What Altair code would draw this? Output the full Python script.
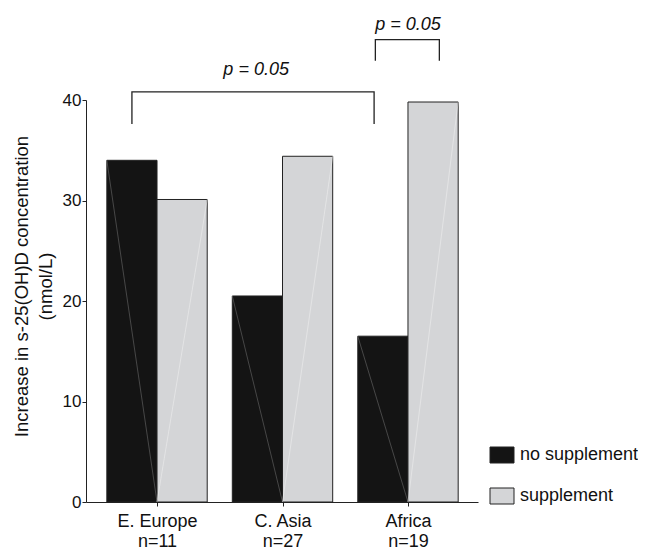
import altair as alt
import pandas as pd

# ---- data ----
regions = ["E. Europe", "C. Asia", "Africa"]
n_labels = ["n=11", "n=27", "n=19"]
groups = ["no supplement", "supplement"]
no_supp = [34.0, 20.5, 16.5]
supp = [30.1, 34.4, 39.8]
y_ticks = [0, 10, 20, 30, 40]

# significance brackets (data units)
bracket_x0 = [0.80, 2.74]
bracket_x1 = [2.73, 3.25]
bracket_top = [40.8, 46.0]
bracket_bottom = [37.6, 43.9]
p_labels = ["p = 0.05", "p = 0.05"]
p_x = [1.79, 3.0]
p_y = [43.0, 47.5]

FONT = "Liberation Sans"
BAR_W = 0.4

# ---- tables built from the lists ----
bar_rows = []
diag_rows = []
for i, reg in enumerate(regions):
    pos = i + 1
    bar_rows.append(dict(region=reg, group=groups[0], x=pos - BAR_W, x2=pos, y=no_supp[i]))
    bar_rows.append(dict(region=reg, group=groups[1], x=pos, x2=pos + BAR_W, y=supp[i]))
    diag_rows.append(dict(group=groups[0], xa=pos - BAR_W, ya=no_supp[i], xb=pos, yb=0))
    diag_rows.append(dict(group=groups[1], xa=pos, ya=0, xb=pos + BAR_W, yb=supp[i]))
bars_df = pd.DataFrame(bar_rows)
diag_df = pd.DataFrame(diag_rows)

br_rows = []
for b in range(len(bracket_x0)):
    pts = [(bracket_x0[b], bracket_bottom[b]), (bracket_x0[b], bracket_top[b]),
           (bracket_x1[b], bracket_top[b]), (bracket_x1[b], bracket_bottom[b])]
    for k, (px, py) in enumerate(pts):
        br_rows.append(dict(b=b, k=k, x=px, y=py))
br_df = pd.DataFrame(br_rows)
p_df = pd.DataFrame(dict(label=p_labels, x=p_x, y=p_y))

label_arr = "[" + ",".join(f"['{r}','{n}']" for r, n in zip(regions, n_labels)) + "]"

xscale = alt.Scale(domain=[0.434, 3.558], nice=False, zero=False)
yscale = alt.Scale(domain=[0, 40], nice=False)

x_axis = alt.Axis(values=[1, 2, 3], labelExpr=f"{label_arr}[datum.value - 1]",
                  title=None, grid=False, tickSize=4, labelFontSize=18,
                  labelLineHeight=20, labelPadding=6, labelFlush=False)
y_axis = alt.Axis(values=y_ticks, grid=False, tickSize=4, labelPadding=1,
                  labelFontSize=17, title=["Increase in  s-25(OH)D concentration", "(nmol/L)"],
                  titleFontSize=18.5, titleFontWeight="normal", titleLineHeight=24,
                  titleX=-74, titleY=186, titleBaseline="top", titleAlign="center", titleAngle=270)

bars = alt.Chart(bars_df).mark_rect(stroke="#222", strokeWidth=1).encode(
    x=alt.X("x:Q", scale=xscale, axis=x_axis),
    x2="x2:Q",
    y=alt.Y("y:Q", scale=yscale, axis=y_axis),
    y2=alt.datum(0),
    color=alt.Color("group:N",
                    scale=alt.Scale(domain=groups, range=["#141414", "#d4d5d7"]),
                    legend=alt.Legend(title=None, orient="none", legendX=407, legendY=346,
                                      symbolType="M-1.5,-1H1.5V1H-1.5Z", symbolSize=256,
                                      symbolStrokeColor="#222", symbolStrokeWidth=1,
                                      symbolOpacity=1, labelFontSize=18, labelOffset=9,
                                      rowPadding=21, padding=0, labelColor="#111")),
)

diag = alt.Chart(diag_df).mark_rule(strokeWidth=0.5).encode(
    x="xa:Q", y="ya:Q", x2="xb:Q", y2="yb:Q",
    color=alt.condition(alt.datum.group == groups[0], alt.value("#7a7a7a"), alt.value("#f2f2f2")),
)

brackets = alt.Chart(br_df).mark_line(color="#222", strokeWidth=1.3).encode(
    x="x:Q", y="y:Q", detail="b:N", order="k:Q",
)

ptext = alt.Chart(p_df).mark_text(fontStyle="italic", fontSize=18, font=FONT, color="#111").encode(
    x="x:Q", y="y:Q", text="label:N",
)

chart = alt.layer(bars, diag, brackets, ptext).properties(
    width=392, height=402,
    autosize=alt.AutoSizeParams(type="none"),
    padding={"left": 78, "top": 92, "right": 160, "bottom": 50},
).configure(font=FONT).configure_view(stroke=None).configure_axis(
    domainColor="#222", tickColor="#222", labelColor="#111", titleColor="#111",
    labelFont=FONT, titleFont=FONT,
).configure_legend(labelFont=FONT)

chart.save("out.html", embed_options={"renderer": "svg", "actions": False})
